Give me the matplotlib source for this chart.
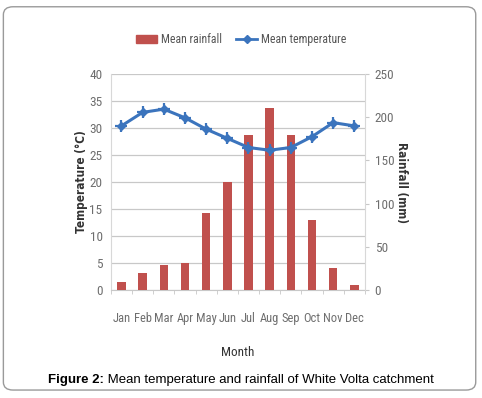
import matplotlib.pyplot as plt
import numpy as np
from matplotlib.patches import FancyBboxPatch
from matplotlib.lines import Line2D
from matplotlib.patches import Patch

months = ["Jan", "Feb", "Mar", "Apr", "May", "Jun", "Jul", "Aug", "Sep", "Oct", "Nov", "Dec"]
rainfall = [9, 20, 29, 31, 89, 125, 180, 211, 179, 81, 26, 6]
temperature = [30.4, 32.9, 33.5, 31.9, 29.8, 28.1, 26.4, 25.9, 26.4, 28.4, 31.0, 30.4]

plt.rcParams['font.family'] = ['Roboto Condensed', 'DejaVu Sans']
plt.rcParams['font.stretch'] = 'condensed'

bar_color = "#c0504d"
line_color = "#3b74bd"
tick_gray = "#6e6e6e"

fig = plt.figure(figsize=(4.82, 3.98), dpi=100)

# rounded frame
frame = FancyBboxPatch((0.007, 0.02), 0.98, 0.963, boxstyle="round,pad=0,rounding_size=0.02",
                       transform=fig.transFigure, fill=False, edgecolor="#9a9a9a", linewidth=1.0)
fig.patches.append(frame)

pos = [0.230, 0.271, 0.527, 0.543]
ax = fig.add_axes(pos)      # temperature scale + grid (back)
ax2 = ax.twinx()            # rainfall bars
ax3 = ax.twinx()            # temperature line on top

x = np.arange(len(months))

ax.set_ylim(0, 40)
ax.set_yticks(np.arange(0, 41, 5))
ax.set_xlim(-0.5, 11.5)
ax.set_xticks(x)
ax.set_xticklabels(months)
ax.set_xticks(np.arange(-0.5, 12, 1), minor=True)
ax.yaxis.grid(True, color="#c8c8c8", linewidth=0.9)

ax2.bar(x, rainfall, width=0.4, color=bar_color, zorder=2)
ax2.set_ylim(0, 250)
ax2.set_yticks(np.arange(0, 251, 50))

ax3.plot(x, temperature, color=line_color, linewidth=2.2, marker="D", markersize=4.5,
         markerfacecolor=line_color, markeredgecolor=line_color, zorder=3)
ax3.plot(x, temperature, linestyle="none", marker="+", markersize=9, markeredgewidth=1.6,
         color=line_color, zorder=4)
ax3.set_ylim(0, 40)
ax3.axis("off")

for a in (ax, ax2, ax3):
    for s in a.spines.values():
        s.set_visible(False)
    a.tick_params(colors=tick_gray, labelsize=9.5, length=0, pad=6)
ax.spines["bottom"].set_visible(True)
ax.spines["bottom"].set_color("#c8c8c8")
ax.spines["left"].set_visible(True)
ax.spines["left"].set_color("#d8d8d8")
ax2.spines["right"].set_visible(True)
ax2.spines["right"].set_color("#d8d8d8")
ax2.tick_params(axis="y", length=3, color="#c8c8c8", pad=4)
ax.tick_params(axis="x", pad=16, labelsize=9)
ax.tick_params(axis="x", which="minor", length=3, color="#c8c8c8")

ax.set_ylabel("Temperature (°C)", family="DejaVu Sans", fontsize=8.5, fontweight="bold",
              color="#333333", labelpad=1)
ax2.set_ylabel("Rainfall (mm)", family="DejaVu Sans", fontsize=8.5, fontweight="bold",
               color="#333333", rotation=270, labelpad=10)
ax.set_xlabel("Month", fontsize=9.5, color="#333333", labelpad=15)

handles = [Patch(color=bar_color),
           Line2D([0], [0], color=line_color, linewidth=2, marker="D", markersize=4)]
fig.legend(handles, ["Mean rainfall", "Mean temperature"], loc="center", bbox_to_anchor=(0.5, 0.9),
           ncol=2, frameon=False, fontsize=8.5, labelcolor="#555555", handlelength=1.8,
           handletextpad=0.3, columnspacing=1.2)

# caption: bold "Figure 2:" followed by regular text, centred as a whole
cap_y = 0.045
t1 = fig.text(0, cap_y, "Figure 2:", family="Liberation Sans", fontsize=9.5, fontweight="bold",
              ha="left", va="center", fontstretch="normal")
t2 = fig.text(0, cap_y, " Mean temperature and rainfall of White Volta catchment",
              family="Liberation Sans", fontsize=9.5, ha="left", va="center", fontstretch="normal")
r = fig.canvas.get_renderer()
w1 = t1.get_window_extent(r).width / fig.bbox.width
w2 = t2.get_window_extent(r).width / fig.bbox.width
start = 0.5 - (w1 + w2) / 2
t1.set_x(start)
t2.set_x(start + w1)

fig.savefig("out.png", dpi=100)
